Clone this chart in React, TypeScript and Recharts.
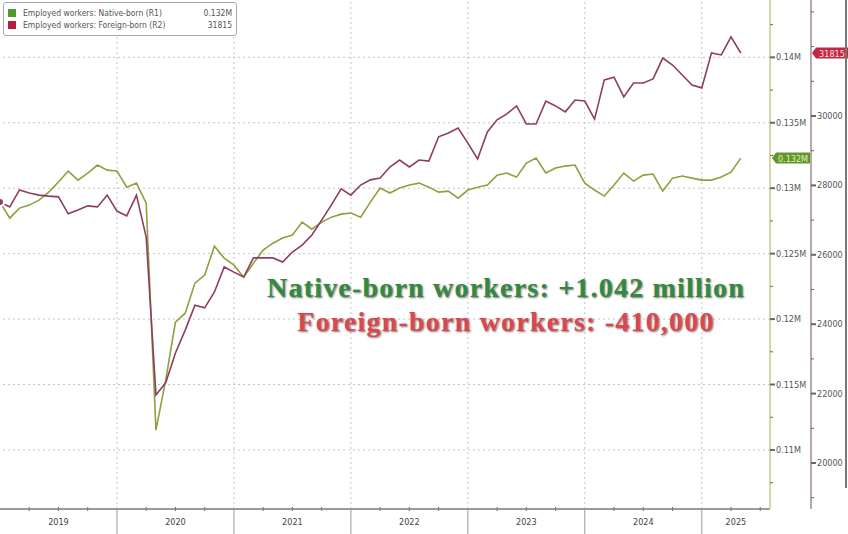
import React from 'react';
import { LineChart, Line, XAxis, YAxis, ReferenceLine, ReferenceDot } from 'recharts';

// Monthly values, month-end Dec 2018 (index 0) .. Apr 2025 (index 76)
const native = [
  128940, 127710, 128480, 128710, 129090, 129700, 130470, 131310, 130620, 131160,
  131770, 131380, 131310, 130080, 130390, 128860, 111510, 115330, 119760, 120450,
  122750, 123360, 125570, 124660, 124120, 123200, 124270, 125270, 125800, 126190,
  126420, 127410, 126870, 127410, 127790, 128020, 128100, 127790, 128940, 130010,
  129630, 130010, 130240, 130390, 130080, 129700, 129780, 129240, 129860, 130080,
  130240, 131000, 131160, 130850, 131920, 132300, 131160, 131540, 131690, 131770,
  130390, 129860, 129400, 130240, 131160, 130540, 131000, 131080, 129780, 130770,
  130930, 130770, 130620, 130620, 130850, 131230, 132300,
];
const foreign = [
  27520, 27380, 27870, 27780, 27720, 27690, 27670, 27180, 27290, 27410,
  27380, 27720, 27260, 27120, 27720, 26510, 21960, 22310, 23170, 23830,
  24550, 24470, 24930, 25650, 25500, 25360, 25910, 25910, 25910, 25790,
  26080, 26280, 26570, 27000, 27440, 27900, 27720, 28010, 28160, 28210,
  28530, 28730, 28530, 28730, 28700, 29400, 29510, 29650, 29220, 28760,
  29540, 29890, 30060, 30290, 29770, 29770, 30430, 30290, 30120, 30460,
  30430, 29910, 31040, 31120, 30550, 30950, 30950, 31070, 31670, 31470,
  31180, 30890, 30810, 31820, 31760, 32280, 31815,
];
const yearLabels = ['2019', '2020', '2021', '2022', '2023', '2024', '2025'];
const r1Ticks = [110000, 115000, 120000, 125000, 130000, 135000, 140000];
const r2Ticks = [20000, 22000, 24000, 26000, 28000, 30000];
const legendNames = ['Employed workers: Native-born (R1)', 'Employed workers: Foreign-born (R2)'];
const legendValues = ['0.132M', '31815'];
const badgeLabels = ['0.132M', '31815'];
const annotations = ['Native-born workers: +1.042 million', 'Foreign-born workers: -410,000'];

const X_END = 79; // axis runs to end of Jul 2025
const R1_DOMAIN = [105490, 144380];
const R2_DOMAIN = [18674, 33343];

const GREEN = '#8fa03e';
const MAROON = '#8e3d5f';

const data = native.map((v, i) => ({ i, native: v, foreign: foreign[i] }));

const yearStarts = yearLabels.map((_, k) => k * 12);
const labelPos = yearStarts.map((s) => (s + Math.min(s + 12, X_END)) / 2);
const quarterTicks: number[] = [];
for (let q = 0; q <= X_END; q += 3) quarterTicks.push(q);
const xTicks = Array.from(new Set([...quarterTicks, ...labelPos])).sort((a, b) => a - b);

const r1All: number[] = [];
for (let v = 107500; v <= 142500; v += 2500) r1All.push(v);
const r2All: number[] = [];
for (let v = 19000; v <= 33000; v += 1000) r2All.push(v);

const fmtR1 = (v: number) => parseFloat((v / 1e6).toFixed(4)) + 'M';

const XTick = (props: any) => {
  const { x, y, payload } = props;
  const v = payload.value;
  const li = labelPos.indexOf(v);
  return (
    <g>
      {Number.isInteger(v) && v % 3 === 0 && v % 12 !== 0 && (
        <line x1={x} x2={x} y1={y - 2} y2={y + 2} stroke="#777" strokeWidth={1} />
      )}
      {Number.isInteger(v) && v % 12 === 0 && v > 0 && (
        <line x1={x} x2={x} y1={y} y2={y + 26} stroke="#9a9a9a" strokeWidth={1} />
      )}
      {li >= 0 && (
        <text x={x} y={y + 16} textAnchor="middle" fontSize={9} fill="#444" fontFamily="DejaVu Sans Condensed, DejaVu Sans">
          {yearLabels[li]}
        </text>
      )}
    </g>
  );
};

const R1Tick = (props: any) => {
  const { x, y, payload } = props;
  const v = payload.value;
  const major = r1Ticks.includes(v);
  return (
    <g>
      <line x1={x} x2={x + (major ? 5 : 3)} y1={y} y2={y} stroke="#666" strokeWidth={major ? 2 : 1} />
      {major && (
        <text x={x + 6} y={y + 3} fontSize={9} fill="#555" fontFamily="DejaVu Sans Condensed, DejaVu Sans">
          {fmtR1(v)}
        </text>
      )}
    </g>
  );
};

const R2Tick = (props: any) => {
  const { x, y, payload } = props;
  const v = payload.value;
  const major = r2Ticks.includes(v);
  return (
    <g>
      <line x1={x} x2={x + (major ? 5 : 3)} y1={y} y2={y} stroke="#666" strokeWidth={major ? 2 : 1} />
      {major && (
        <text x={x + 6} y={y + 3} fontSize={9} fill="#555" fontFamily="DejaVu Sans Condensed, DejaVu Sans">
          {v}
        </text>
      )}
    </g>
  );
};

const Badge = (props: any) => {
  const { cx, cy, dx, w, bg, fg, label } = props;
  if (cx == null || cy == null) return null;
  const x0 = cx + dx;
  const h = 11;
  const d = `M${x0},${cy} L${x0 + 4},${cy - h / 2} L${x0 + w},${cy - h / 2} L${x0 + w},${cy + h / 2} L${x0 + 4},${cy + h / 2} Z`;
  return (
    <g>
      <path d={d} fill={bg} />
      <text x={x0 + 4 + (w - 4) / 2} y={cy + 3.5} textAnchor="middle" fontSize={9} fill={fg} fontFamily="DejaVu Sans Condensed, DejaVu Sans">
        {label}
      </text>
    </g>
  );
};

export default function App() {
  const last = native.length - 1;
  return (
    <div style={{ position: 'absolute', left: 0, top: 0, width: 848, height: 534, background: '#fff', overflow: 'hidden' }}>
      <LineChart width={848} height={534} data={data} margin={{ top: 0, right: 0, bottom: 0, left: 0 }}>
        <XAxis
          dataKey="i"
          type="number"
          domain={[0, X_END]}
          allowDataOverflow
          ticks={xTicks}
          interval={0}
          tick={<XTick />}
          tickLine={false}
          tickSize={0}
          tickMargin={0}
          height={25}
          axisLine={{ stroke: '#9a9a9a', strokeWidth: 2 }}
        />
        <YAxis
          yAxisId="r1"
          orientation="right"
          type="number"
          domain={R1_DOMAIN}
          allowDataOverflow
          ticks={r1All}
          interval={0}
          tick={<R1Tick />}
          tickLine={false}
          tickSize={0}
          tickMargin={0}
          width={41}
          axisLine={{ stroke: '#c9c98f', strokeWidth: 1.5 }}
        />
        <YAxis
          yAxisId="r2"
          orientation="right"
          type="number"
          domain={R2_DOMAIN}
          allowDataOverflow
          ticks={r2All}
          interval={0}
          tick={<R2Tick />}
          tickLine={false}
          tickSize={0}
          tickMargin={0}
          width={37}
          axisLine={{ stroke: '#a08a93', strokeWidth: 1.5 }}
        />
        {r1Ticks.map((v) => (
          <ReferenceLine key={'h' + v} yAxisId="r1" y={v} stroke="#c4c4c4" strokeDasharray="2 3" strokeWidth={1} />
        ))}
        {yearStarts.filter((s) => s > 0).map((s) => (
          <ReferenceLine key={'v' + s} yAxisId="r1" x={s} stroke="#c4c4c4" strokeDasharray="2 3" strokeWidth={1} />
        ))}
        <Line yAxisId="r1" dataKey="native" stroke={GREEN} strokeWidth={1.6} dot={false} isAnimationActive={false} />
        <Line yAxisId="r2" dataKey="foreign" stroke={MAROON} strokeWidth={1.6} dot={false} isAnimationActive={false} />
        <ReferenceDot
          yAxisId="r1"
          x={X_END}
          y={native[last]}
          r={0}
          shape={(p: any) => <Badge {...p} dx={2} w={38} bg="#64952e" fg="#d9f5b0" label={badgeLabels[0]} />}
        />
        <ReferenceDot
          yAxisId="r2"
          x={X_END}
          y={foreign[last]}
          r={0}
          shape={(p: any) => <Badge {...p} dx={42} w={36} bg="#c2283f" fg="#ffe0e6" label={badgeLabels[1]} />}
        />
      </LineChart>

      <div
        style={{
          position: 'absolute', left: 3, top: 2, width: 232, height: 32,
          border: '1px solid #a8a8a8', borderRadius: 3, background: '#fff',
          fontFamily: 'DejaVu Sans Condensed, DejaVu Sans', fontSize: 8.5, color: '#555',
        }}
      >
        {legendNames.map((n, k) => (
          <div key={n} style={{ position: 'absolute', left: 4, top: 4 + k * 12, width: 224, height: 11, display: 'flex', alignItems: 'center' }}>
            <div style={{ width: 8, height: 8, background: k === 0 ? '#4f9a2e' : '#b51f3a', marginRight: 7 }} />
            <span style={{ flex: 1, whiteSpace: 'nowrap' }}>{n}</span>
            <span style={{ whiteSpace: 'nowrap' }}>{legendValues[k]}</span>
          </div>
        ))}
      </div>

      {annotations.map((t, k) => (
        <div
          key={t}
          style={{
            position: 'absolute', left: 206, width: 600, top: 271 + k * 34, textAlign: 'center',
            fontFamily: 'Liberation Serif, serif', fontWeight: 'bold', fontSize: 28, letterSpacing: 1.2,
            color: k === 0 ? '#2f8a42' : '#d9474f', lineHeight: '34px', whiteSpace: 'nowrap',
            textShadow: '1px 1px 2px rgba(60,40,40,0.65)',
          }}
        >
          {t}
        </div>
      ))}

      <div style={{ position: 'absolute', left: 845, top: 0, width: 2, height: 488, background: '#777' }} />
    </div>
  );
}
